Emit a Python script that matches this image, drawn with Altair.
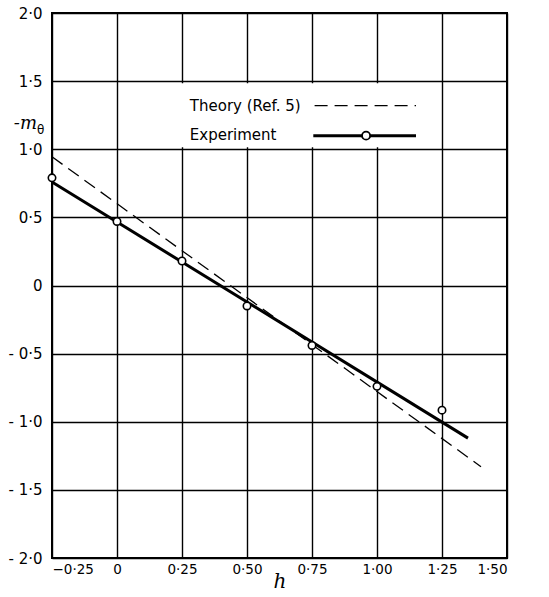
import altair as alt
import pandas as pd

# Measured moment derivative against h
h_exp = [-0.25, 0.0, 0.25, 0.50, 0.75, 1.00, 1.25]
m_exp = [0.79, 0.47, 0.18, -0.15, -0.44, -0.74, -0.915]

# Straight line drawn through the experiment points
h_fit = [-0.25, 1.35]
m_fit = [0.76, -1.12]

# Theory (Ref. 5)
h_theory = [-0.25, 1.40]
m_theory = [0.945, -1.33]

x_ticks = [-0.25, 0.0, 0.25, 0.50, 0.75, 1.00, 1.25, 1.50]
y_ticks = [2.0, 1.5, 1.0, 0.5, 0.0, -0.5, -1.0, -1.5, -2.0]

FONT = "DejaVu Sans"

exp_df = pd.DataFrame({"h": h_exp, "m": m_exp})
fit_df = pd.DataFrame({"h": h_fit, "m": m_fit})
theory_df = pd.DataFrame({"h": h_theory, "m": m_theory})

x_scale = alt.Scale(domain=[-0.25, 1.50], nice=False, zero=False)
y_scale = alt.Scale(domain=[-2.0, 2.0], nice=False, zero=False)

x_label = "datum.value == 0 ? '0' : replace(format(datum.value, '.2f'), '.', '·')"
y_label = ("datum.value == 0 ? '0' : (datum.value < 0 ? '- ' : '') + "
           "replace(format(abs(datum.value), '.1f'), '.', '·')")

x_axis = alt.Axis(
    values=x_ticks, grid=True, gridColor="black", gridWidth=1.4, gridOpacity=1,
    ticks=False, domain=False, labelExpr=x_label, labelFont=FONT, labelFontSize=13.5,
    labelColor="black", labelPadding=4, title="h", titleFont="DejaVu Serif",
    titleFontStyle="italic", titleFontWeight="normal", titleFontSize=20,
    titleColor="black", titlePadding=-4,
)
y_axis = alt.Axis(
    values=y_ticks, grid=True, gridColor="black", gridWidth=1.4, gridOpacity=1,
    ticks=False, domain=False, labelExpr=y_label, labelFont=FONT, labelFontSize=15,
    labelColor="black", labelPadding=10, title=None,
)

x_enc = alt.X("h:Q", scale=x_scale, axis=x_axis)
y_enc = alt.Y("m:Q", scale=y_scale, axis=y_axis)

theory_line = alt.Chart(theory_df).mark_line(
    color="black", strokeWidth=1.3, strokeDash=[13, 7]
).encode(x=x_enc, y=y_enc)

fit_line = alt.Chart(fit_df).mark_line(color="black", strokeWidth=3).encode(
    x=alt.X("h:Q", scale=x_scale), y=alt.Y("m:Q", scale=y_scale)
)

points = alt.Chart(exp_df).mark_point(
    shape="circle", size=55, filled=True, fill="white", stroke="black",
    strokeWidth=1.6, opacity=1
).encode(x=alt.X("h:Q", scale=x_scale), y=alt.Y("m:Q", scale=y_scale))

# Legend panel, placed in data units
legend_box = alt.Chart(pd.DataFrame({"x": [0.24], "x2": [1.20], "y": [1.015], "y2": [1.485]})).mark_rect(
    color="white"
).encode(
    x=alt.X("x:Q", scale=x_scale), x2="x2:Q",
    y=alt.Y("y:Q", scale=y_scale), y2="y2:Q",
)

legend_text = alt.Chart(pd.DataFrame({
    "x": [0.28, 0.28], "y": [1.32, 1.105],
    "label": ["Theory (Ref. 5)", "Experiment"],
})).mark_text(align="left", baseline="middle", font=FONT, fontSize=15, color="black").encode(
    x=alt.X("x:Q", scale=x_scale), y=alt.Y("y:Q", scale=y_scale), text="label:N"
)

legend_dash = alt.Chart(pd.DataFrame({"x": [0.76], "x2": [1.15], "y": [1.32]})).mark_rule(
    color="black", strokeWidth=1.3, strokeDash=[13, 7]
).encode(x=alt.X("x:Q", scale=x_scale), x2="x2:Q", y=alt.Y("y:Q", scale=y_scale))

legend_solid = alt.Chart(pd.DataFrame({"x": [0.755], "x2": [1.15], "y": [1.10]})).mark_rule(
    color="black", strokeWidth=3
).encode(x=alt.X("x:Q", scale=x_scale), x2="x2:Q", y=alt.Y("y:Q", scale=y_scale))

legend_pt = alt.Chart(pd.DataFrame({"x": [0.958], "y": [1.10]})).mark_point(
    shape="circle", size=65, filled=True, fill="white", stroke="black",
    strokeWidth=1.8, opacity=1
).encode(x=alt.X("x:Q", scale=x_scale), y=alt.Y("y:Q", scale=y_scale))

# Vertical axis title: -m with subscript theta
y_title_m = alt.Chart(pd.DataFrame({"t": ["-m"]})).mark_text(
    align="right", baseline="middle", font="DejaVu Serif", fontStyle="italic",
    fontSize=18, color="black"
).encode(x=alt.value(-15), y=alt.value(111), text="t:N")

y_title_theta = alt.Chart(pd.DataFrame({"t": ["θ"]})).mark_text(
    align="left", baseline="middle", font=FONT, fontSize=12, color="black"
).encode(x=alt.value(-15), y=alt.value(117), text="t:N")

chart = alt.layer(
    theory_line, legend_box, fit_line, points,
    legend_text, legend_dash, legend_solid, legend_pt,
    y_title_m, y_title_theta,
).properties(
    width=455, height=545,
    autosize=alt.AutoSizeParams(type="none"),
    padding={"left": 52, "top": 13, "right": 42, "bottom": 39},
    background="white",
).configure_view(stroke="black", strokeWidth=2)

chart.save("out.html", embed_options={"renderer": "svg", "actions": False})
